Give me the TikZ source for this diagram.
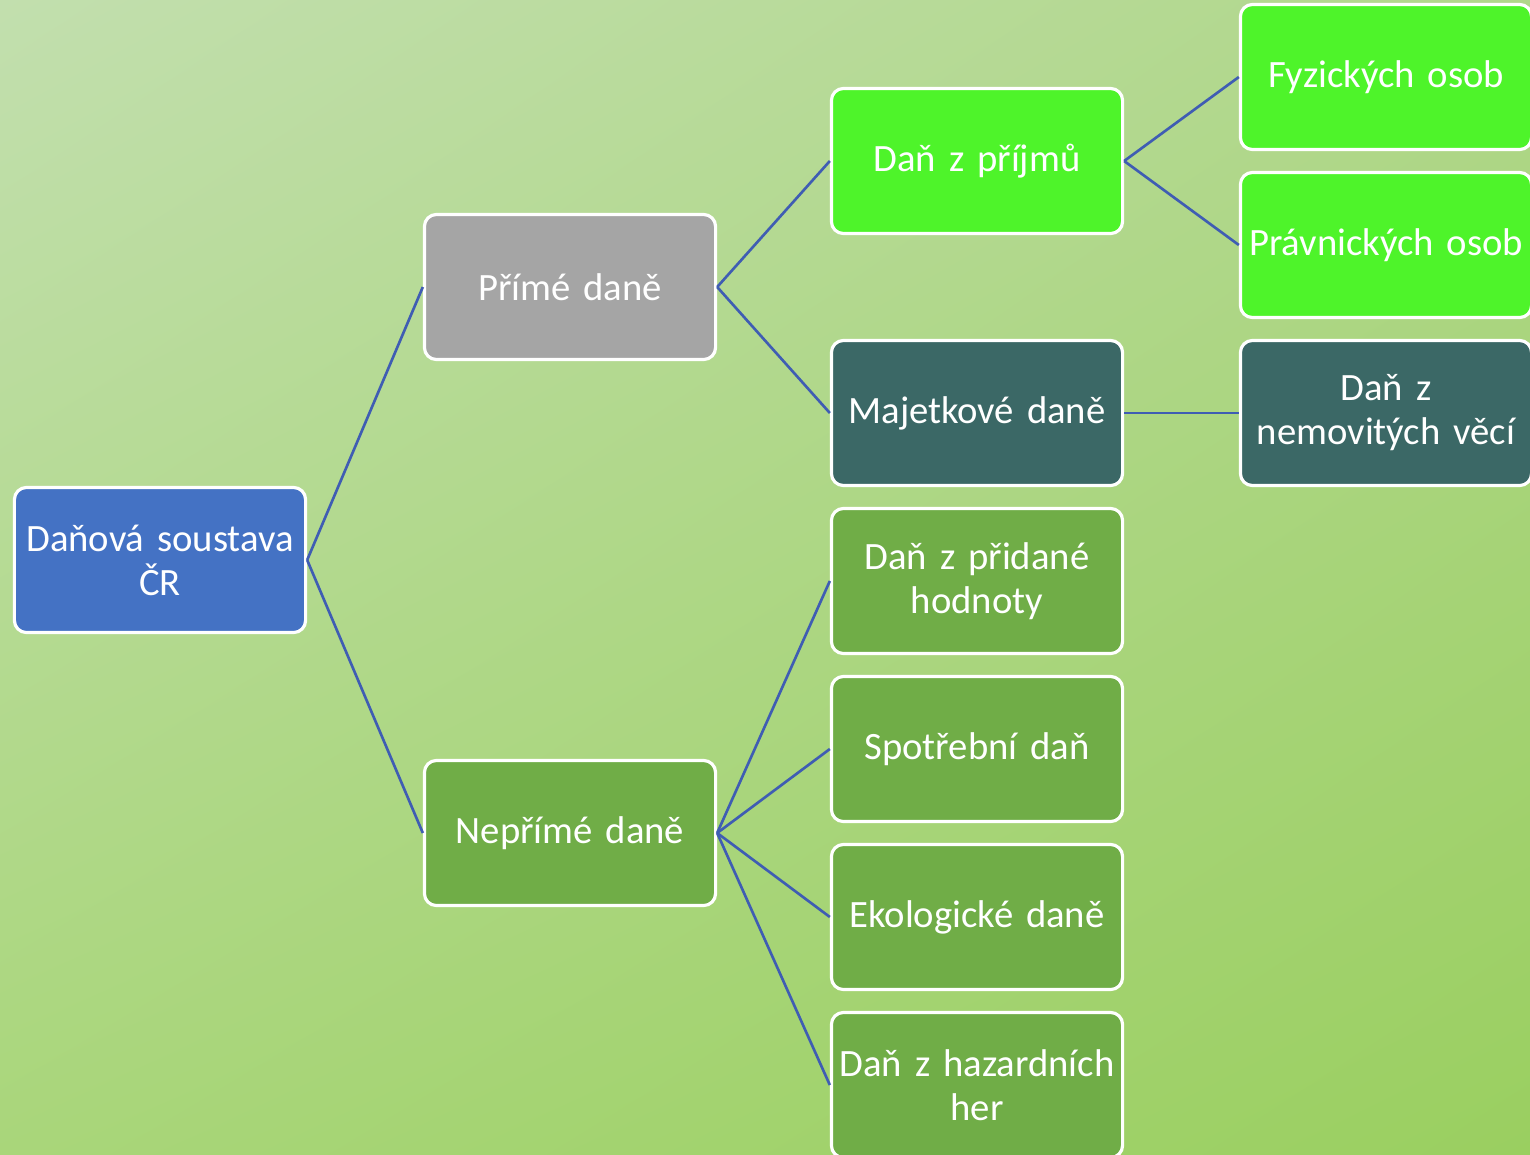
\documentclass[tikz,border=0pt]{standalone}
\usepackage{fontspec}
\setmainfont{Carlito}
\usetikzlibrary{shadings}
\definecolor{rootblue}{HTML}{4472C4}
\definecolor{greybox}{HTML}{A5A5A5}
\definecolor{limebox}{HTML}{4EF42A}
\definecolor{tealbox}{HTML}{3B6866}
\definecolor{leafgreen}{HTML}{70AD47}
\definecolor{linkblue}{HTML}{3F5DB3}
\definecolor{bgtl}{HTML}{C2DFAE}
\definecolor{bgtr}{HTML}{B0D78A}
\definecolor{bgbl}{HTML}{A9D67A}
\definecolor{bgbr}{HTML}{9ACF60}
\begin{document}
\begin{tikzpicture}[x=.01cm,y=-.01cm,
		box/.style={draw=white, line width=.9pt, rounded corners=.12cm,
			minimum width=2.91cm, minimum height=1.45cm, text width=2.89cm,
			align=center, text=white, inner sep=0pt,
			font=\fontsize{11}{12.5}\selectfont},
		link/.style={linkblue, line width=.75pt}]
		\clip (0,0) rectangle (1530,1154);
		\shade [upper left=bgtl, upper right=bgtr, lower left=bgbl, lower right=bgbr] (0,0) rectangle (1530,1154);
		% tree
		\node [box, fill=rootblue]   (root)  at (160,560)  {Daňová soustava\\ČR};
		\node [box, fill=greybox]    (prime) at (570,287)  {Přímé daně};
		\node [box, fill=leafgreen]  (neprime) at (570,833) {Nepřímé daně};
		\node [box, fill=limebox]    (prijmy) at (977,161) {Daň z příjmů};
		\node [box, fill=tealbox]    (majetek) at (977,413) {Majetkové daně};
		\node [box, fill=leafgreen]  (dph)   at (977,581)  {Daň z přidané\\hodnoty};
		\node [box, fill=leafgreen]  (spotreba) at (977,749) {Spotřební daň};
		\node [box, fill=leafgreen]  (eko)   at (977,917)  {Ekologické daně};
		\node [box, fill=leafgreen]  (hazard) at (977,1085) {Daň z hazardních\\her};
		\node [box, fill=limebox]    (fyz)   at (1386,77)  {Fyzických osob};
		\node [box, fill=limebox]    (prav)  at (1386,245) {Právnických osob};
		\node [box, fill=tealbox]    (nemovit) at (1386,413) {Daň z\\nemovitých věcí};
		% links
		\foreach \a/\b in {root/prime, root/neprime, prime/prijmy, prime/majetek,
			prijmy/fyz, prijmy/prav, majetek/nemovit,
			neprime/dph, neprime/spotreba, neprime/eko, neprime/hazard} {
			\draw [link] (\a.east) -- (\b.west);
		}
	\end{tikzpicture}
\end{document}
